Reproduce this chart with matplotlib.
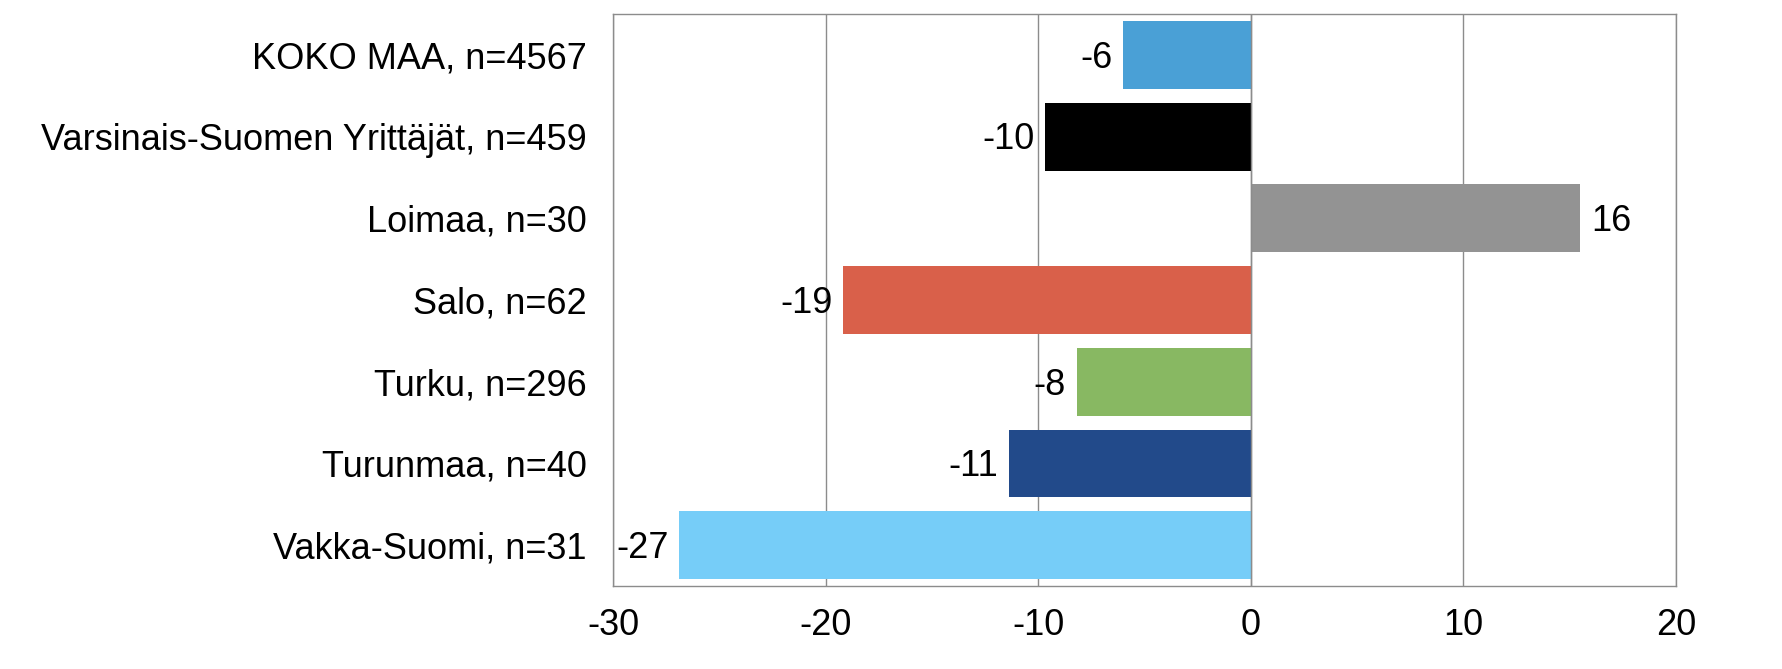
import matplotlib
matplotlib.use("Agg")
import matplotlib.pyplot as plt

plt.rcParams['font.family'] = ['Liberation Sans', 'DejaVu Sans']

categories = ["KOKO MAA, n=4567", "Varsinais-Suomen Yrittäjät, n=459", "Loimaa, n=30",
              "Salo, n=62", "Turku, n=296", "Turunmaa, n=40", "Vakka-Suomi, n=31"]
values = [-6.0, -9.7, 15.5, -19.2, -8.2, -11.4, -26.9]
colors = ["#4aa0d6", "#000000", "#939393", "#d9604a", "#88b862", "#224a8a", "#76cdf8"]
xticks = [-30, -20, -10, 0, 10, 20]

fig = plt.figure(figsize=(17.83, 6.69), dpi=100)
ax = fig.add_axes([0.344, 0.124, 0.596, 0.855])

pos = list(range(len(categories)))
ax.barh(pos, values, height=0.83, color=colors, zorder=3)

for p, v in zip(pos, values):
    lab = str(int(round(v)))
    if v < 0:
        ax.text(v - 0.5, p + 0.04, lab, ha='right', va='center', fontsize=26)
    else:
        ax.text(v + 0.5, p + 0.04, lab, ha='left', va='center', fontsize=26)

ax.set_xlim(-30, 20)
ax.set_ylim(len(categories) - 0.5, -0.5)
ax.set_xticks(xticks)
ax.set_xticklabels([str(t) for t in xticks], fontsize=26)
ax.set_yticks(pos)
ax.set_yticklabels(categories, fontsize=26)
ax.tick_params(length=0)
ax.tick_params(axis='y', pad=19)
ax.tick_params(axis='x', pad=16)
ax.grid(axis='x', color='#8c8c8c', linewidth=1, zorder=0)
ax.axvline(0, color='#8c8c8c', linewidth=1, zorder=4)
for s in ax.spines.values():
    s.set_color('#8c8c8c')
    s.set_linewidth(1)

fig.savefig("out.png", dpi=100)
